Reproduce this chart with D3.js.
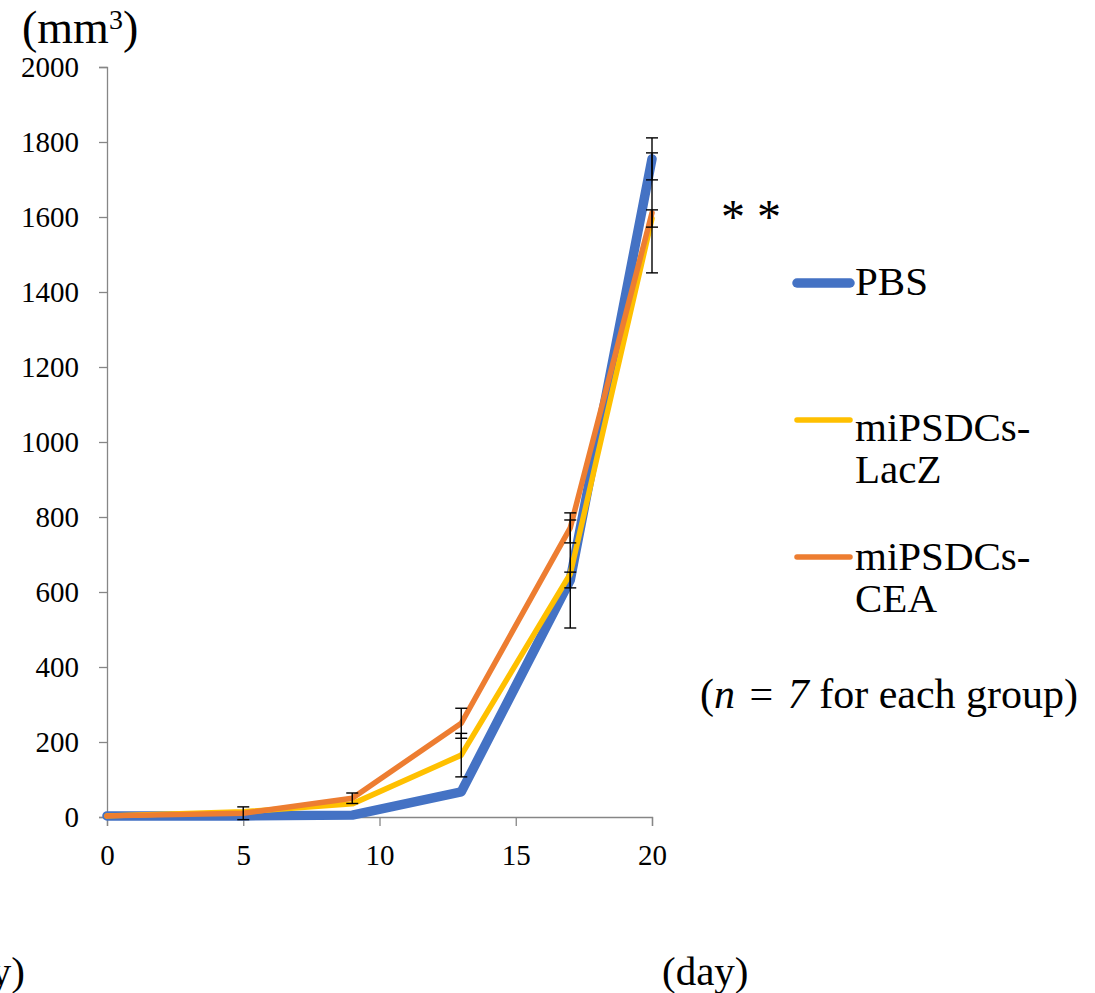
<!DOCTYPE html>
<html><head><meta charset="utf-8">
<script src="https://cdn.jsdelivr.net/npm/d3@7"></script>
<style>body{margin:0;background:#fff}svg{display:block}text{font-family:"Liberation Serif","Times New Roman",serif;fill:#000}</style>
</head><body>
<script>
const days = [0, 5, 9, 13, 17, 20];
const pbs = [3, 3, 5, 67, 632, 1755];
const pbsErr = [0, 0, 0, 0, 21, 56];
const lacz = [3, 14, 35, 165, 648, 1596];
const laczErr = [0, 0, 0, 58, 144, 23];
const cea = [3, 10, 50, 250, 771, 1611];
const ceaErr = [0, 17, 14, 40, 40, 160];
const yTicks = [0, 200, 400, 600, 800, 1000, 1200, 1400, 1600, 1800, 2000];
const xTicks = [0, 5, 10, 15, 20];

const series = [
  {name: "PBS", vals: pbs, err: pbsErr, color: "#4472C4", w: 9.5, label: ["PBS"], ly: 283, ty: 295},
  {name: "LacZ", vals: lacz, err: laczErr, color: "#FFC000", w: 5.5, label: ["miPSDCs-", "LacZ"], ly: 420, ty: 441},
  {name: "CEA", vals: cea, err: ceaErr, color: "#ED7D31", w: 5.5, label: ["miPSDCs-", "CEA"], ly: 557, ty: 570}
];

const W = 1095, H = 993;
const svg = d3.select("body").append("svg").attr("width", W).attr("height", H);
const x = d3.scaleLinear().domain([0, 20]).range([107, 652]);
const y = d3.scaleLinear().domain([0, 2000]).range([817, 67]);

const axisColor = "#868686";
const gy = svg.append("g").attr("transform", "translate(107,0)")
  .call(d3.axisLeft(y).tickValues(yTicks).tickSize(8).tickPadding(20).tickFormat(d3.format("d")));
const gx = svg.append("g").attr("transform", "translate(0,817)")
  .call(d3.axisBottom(x).tickValues(xTicks).tickSize(9).tickPadding(18).tickFormat(d3.format("d")));
[gy, gx].forEach(g => {
  g.select(".domain").attr("stroke", axisColor).attr("stroke-width", 1.3);
  g.selectAll(".tick line").attr("stroke", axisColor).attr("stroke-width", 1.3);
  g.selectAll(".tick text").attr("font-size", 29).attr("font-family", "Liberation Serif").attr("fill", "#000");
});
gy.selectAll(".tick text").attr("dy", "0.34em");

const line = d3.line().x((d, i) => x(days[i])).y(d => y(d));
series.forEach(s => {
  svg.append("path").datum(s.vals).attr("d", line).attr("fill", "none")
    .attr("stroke", s.color).attr("stroke-width", s.w)
    .attr("stroke-linejoin", "round").attr("stroke-linecap", "round");
});

// error bars
series.forEach(s => {
  const g = svg.append("g").attr("stroke", "#000").attr("stroke-width", 1.4);
  s.vals.forEach((v, i) => {
    if (!s.err[i]) return;
    const cx = x(days[i]), top = y(v + s.err[i]), bot = y(v - s.err[i]);
    g.append("line").attr("x1", cx).attr("x2", cx).attr("y1", top).attr("y2", bot);
    g.append("line").attr("x1", cx - 6).attr("x2", cx + 6).attr("y1", top).attr("y2", top);
    g.append("line").attr("x1", cx - 6).attr("x2", cx + 6).attr("y1", bot).attr("y2", bot);
  });
});

// legend
series.forEach(s => {
  svg.append("line").attr("x1", 797).attr("x2", 850).attr("y1", s.ly).attr("y2", s.ly)
    .attr("stroke", s.color).attr("stroke-width", s.w).attr("stroke-linecap", "round");
  s.label.forEach((t, j) => {
    svg.append("text").attr("x", 855).attr("y", s.ty + j * 42).attr("font-size", 41).text(t);
  });
});

// texts
const mm = svg.append("text").attr("x", 22).attr("y", 43).attr("font-size", 46);
mm.append("tspan").text("(mm");
mm.append("tspan").attr("font-size", 28).attr("dy", -14).text("3");
mm.append("tspan").attr("dy", 14).text(")");

svg.append("text").attr("x", 721).attr("y", 233).attr("font-size", 48).text("* *");
const n = svg.append("text").attr("x", 700).attr("y", 708).attr("font-size", 42);
n.append("tspan").text("(");
n.append("tspan").attr("font-style", "italic").text("n");
n.append("tspan").attr("dx", 4).text(" = ");
n.append("tspan").attr("dx", 4).attr("font-style", "italic").text("7");
n.append("tspan").text(" for each group)");

svg.append("text").attr("x", 662).attr("y", 985).attr("font-size", 41).text("(day)");
svg.append("text").attr("x", 25).attr("y", 985).attr("font-size", 41).attr("text-anchor", "end").text("(day)");
</script>
</body></html>
